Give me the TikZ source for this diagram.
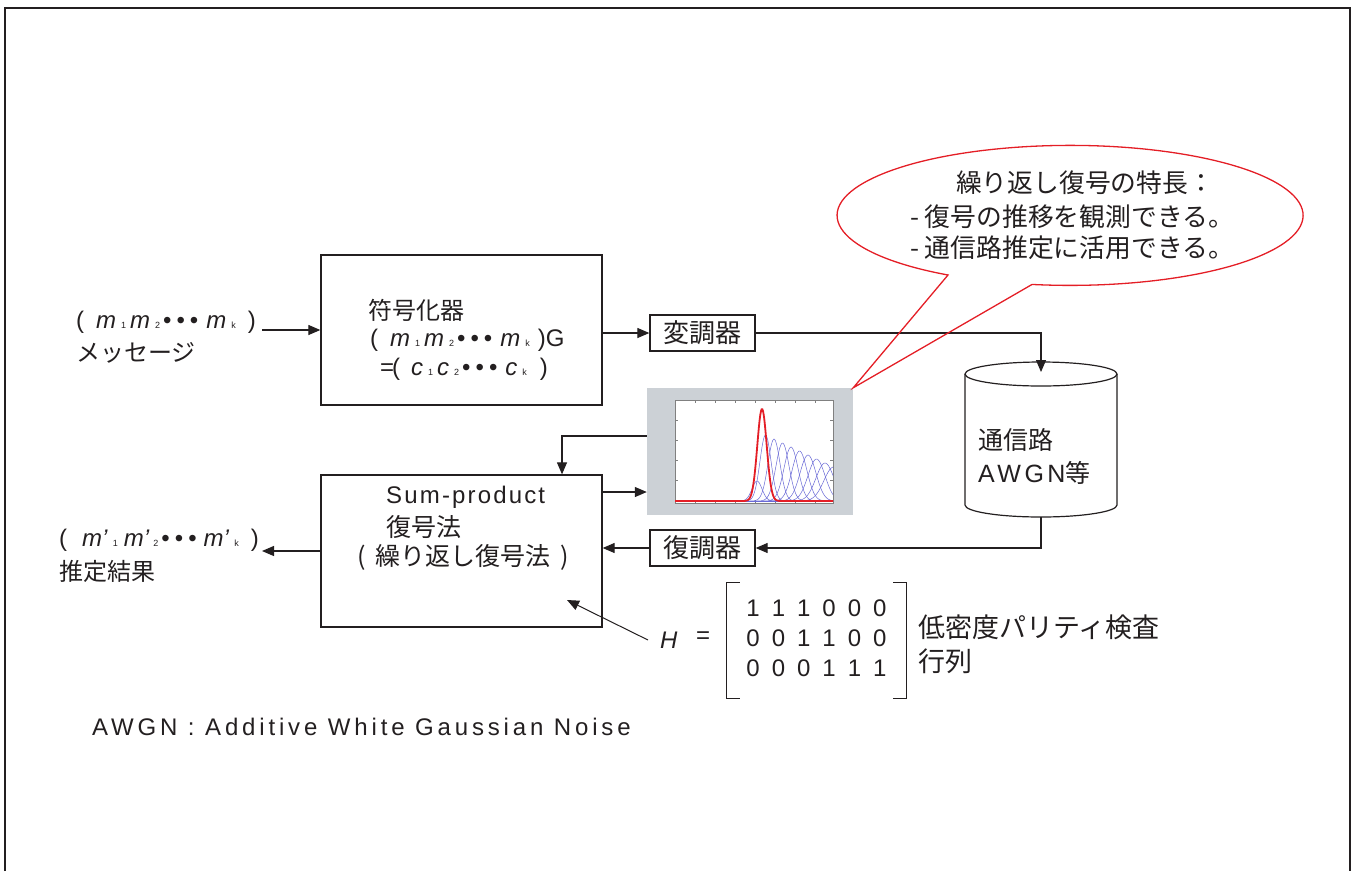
\documentclass[tikz,border=0pt]{standalone}
\usepackage{fontspec}
\setmainfont{Liberation Sans}
\newfontfamily\cjk{Noto Sans CJK JP}
\newfontfamily\lsp[LetterSpace=14]{Liberation Sans}
\newfontfamily\lspw[LetterSpace=16]{Liberation Sans}
\newfontfamily\lspn[LetterSpace=9]{Liberation Sans}
\usetikzlibrary{arrows.meta}
\definecolor{ink}{RGB}{35,31,32}
\definecolor{callred}{RGB}{228,30,38}
\definecolor{plotgray}{RGB}{204,209,214}
\definecolor{curveblue}{RGB}{105,105,215}
\newcommand{\jp}{\cjk\fontsize{24}{28}\selectfont}
\newcommand{\jpl}{\cjk\fontsize{25}{29}\selectfont}
\newcommand{\jpc}{\cjk\fontsize{25.8}{30}\selectfont}
\newcommand{\jpxl}{\cjk\fontsize{27}{31}\selectfont}
\newcommand{\lt}{\lspw\fontsize{24}{28}\selectfont}
\newcommand{\ltn}{\lspn\fontsize{24}{28}\selectfont}
\newcommand{\mt}{\fontsize{24}{28}\selectfont}
\newcommand{\sbs}[1]{{\fontsize{9}{9}\selectfont #1}}
\newcommand{\bdots}{•\kern5pt•\kern5pt•}
\tikzset{
  box/.style={draw=ink, line width=1.3pt, inner sep=0pt, fill=white},
  txt/.style={anchor=west, inner sep=0pt, text=ink},
  arr/.style={draw=ink, line width=1.2pt, -{Triangle[length=12pt,width=10pt]}},
  wire/.style={draw=ink, line width=1.2pt},
}
\begin{document}
\begin{tikzpicture}[x=1pt,y=-1pt]
\useasboundingbox (0,0) rectangle (1354,871);
\draw[ink, line width=1.5pt] (5,871) -- (5,8) -- (1350,8) -- (1350,871);

% input message
\node[txt, font=\mt] (msg) at (76,322) {(\kern12pt\textit{m}\kern5pt\sbs{1}\kern4pt\textit{m}\kern5pt\sbs{2}\kern3pt\bdots\kern8pt\textit{m}\kern5pt\sbs{k}\kern12pt)};
\node[txt, font=\jp] (msgj) at (76,353) {メッセージ};
\coordinate (intail) at (262,330);

% encoder
\node[box, minimum width=281, minimum height=150] (enc) at (461.5,330) {};
\node[txt, font=\jp] (enc1) at (368,310) {符号化器};
\node[txt, font=\mt] (enc2) at (370,340) {(\kern12pt\textit{m}\kern5pt\sbs{1}\kern4pt\textit{m}\kern5pt\sbs{2}\kern3pt\bdots\kern8pt\textit{m}\kern5pt\sbs{k}\kern8pt)G};
\node[txt, font=\mt] (enc3) at (380,369) {=\kern-2pt(\kern11pt\textit{c}\kern5pt\sbs{1}\kern4pt\textit{c}\kern5pt\sbs{2}\kern3pt\bdots\kern8pt\textit{c}\kern5pt\sbs{k}\kern13pt)};

% modulator / demodulator
\node[box, minimum width=105, minimum height=36, font=\cjk\fontsize{26}{30}\selectfont, text=ink] (mod) at (702.5,333) {変調器};
\node[box, minimum width=105, minimum height=36, font=\cjk\fontsize{26}{30}\selectfont, text=ink] (dem) at (702.5,548) {復調器};

% channel cylinder
\draw[ink, line width=1.2pt, fill=white] (965,374) -- (965,505) arc[start angle=180, end angle=360, x radius=76pt, y radius=12pt] -- (1117,374);
\draw[ink, line width=1.2pt] (1041,374) ellipse[x radius=76pt, y radius=12pt];
\coordinate (chtop) at (1041,372);
\coordinate (chbot) at (1041,517);
\node[txt, font=\jpl] (ch1) at (978,440) {通信路};
\node[txt, font=\lsp\fontsize{25}{29}\selectfont] (ch2) at (978,473) {AWGN{\jpl 等}};

% decoder
\node[box, minimum width=281, minimum height=152] (dec) at (461.5,551) {};
\node[txt, font=\ltn] (dec1) at (386,497) {Sum-product};
\node[txt, font=\jpl] (dec2) at (386,527) {復号法};
\node[txt, font=\jpl] (dec3) at (357,557) {({\kern10pt}繰り返し復号法{\kern10pt})};

% output
\node[txt, font=\mt] (est) at (59,540) {(\kern15pt\textit{m'}\kern5pt\sbs{1}\kern6pt\textit{m'}\kern4pt\sbs{2}\kern3pt\bdots\kern7pt\textit{m'}\kern5pt\sbs{k}\kern12pt)};
\node[txt, font=\jp] (estj) at (59,571) {推定結果};
\coordinate (outtip) at (262,551);

% plot image
\node[fill=plotgray, minimum width=206, minimum height=127, inner sep=0pt] (plot) at (750,451.5) {};
\begin{scope}
  \fill[white] (675,400) rectangle (833,503);
  \draw[gray, line width=0.4pt] (675,400) rectangle (833,503);
  \foreach \t in {695,715,735,755,775,795,815} {
    \draw[gray, line width=0.3pt] (\t,503) -- (\t,500);
    \draw[gray, line width=0.3pt] (\t,400) -- (\t,403);
  }
  \foreach \t in {420,440,460,480} {
    \draw[gray, line width=0.3pt] (675,\t) -- (678,\t);
    \draw[gray, line width=0.3pt] (833,\t) -- (830,\t);
  }
  \clip (675,400) rectangle (833,503);
  \foreach \i in {0,...,9} {
    \pgfmathsetmacro\c{757+8.5*\i}
    \pgfmathsetmacro\h{\i==0 ? 20 : 70-4*\i}
    \pgfmathsetmacro\s{5+0.5*\i}
    \pgfmathsetmacro\lo{\c-4*\s}
    \pgfmathsetmacro\hi{\c+4*\s}
    \draw[curveblue, line width=0.5pt] plot[domain=\lo:\hi, samples=50, smooth] (\x, {501-\h*exp(-((\x-\c)^2)/(2*\s*\s))});
  }
  \draw[curveblue, line width=0.6pt] (744,501) -- (833,501);
  \draw[callred, line width=1.8pt] (675,501) -- (743,501) plot[domain=743:781, samples=60, smooth] (\x, {501-92*exp(-((\x-762)^2)/(2*22))}) -- (833,501);
\end{scope}

% connectors
\draw[arr] (intail) -- (enc.west |- intail);
\draw[arr] (enc.east |- mod.west) -- (mod.west);
\draw[arr] (mod.east) -| (chtop);
\draw[arr] (chbot) |- (dem.east);
\draw[arr] (dem.west) -- (dec.east |- dem.west);
\draw[arr] (dec.west |- outtip) -- (outtip);
\draw[arr] ([yshift=15.5pt]plot.west) -| ([xshift=100.5pt]dec.north);
\draw[arr] ([yshift=59pt]dec.east) -- ([yshift=59pt]dec.east -| plot.west);

% parity check matrix
\node[txt, font=\mt] (H) at (660,640) {\textit{H}};
\node[txt, font=\mt] (eq) at (696,638) {=};
\coordinate (Hpt) at (567,600);
\draw[arr, line width=1pt] ([xshift=-12pt]H.west) -- (Hpt);
\node[inner sep=0pt, minimum width=179, minimum height=115, text=ink, font=\fontsize{24}{30}\selectfont] (mat) at (816.5,640.5) {%
  \setlength{\tabcolsep}{6pt}\renewcommand{\arraystretch}{1}%
  \begin{tabular}{@{}cccccc@{}}1&1&1&0&0&0\\0&0&1&1&0&0\\0&0&0&1&1&1\end{tabular}};
\draw[wire] ([xshift=13pt]mat.north west) -- (mat.north west) -- (mat.south west) -- ([xshift=13pt]mat.south west);
\draw[wire] ([xshift=-13pt]mat.north east) -- (mat.north east) -- (mat.south east) -- ([xshift=-13pt]mat.south east);
\node[txt, font=\jpxl] (ldpc1) at (918,627) {低密度パリティ検査};
\node[txt, font=\jpxl] (ldpc2) at (918,661) {行列};

% note
\node[txt, font=\lt] (note) at (92,727) {AWGN : Additive White Gaussian Noise};

% callout
\draw[callred, line width=1.3pt] (948,275) arc[start angle=238.4, end angle=-99.4, x radius=233pt, y radius=70pt] -- (plot.north east) -- cycle;
\node[anchor=center, inner sep=0pt, font=\jpc, text=ink] (co1) at (1085,183) {繰り返し復号の特長：};
\node[txt, font=\jpc] (co2) at (910,217) {- 復号の推移を観測できる。};
\node[txt, font=\jpc] (co3) at (910,248) {- 通信路推定に活用できる。};
\end{tikzpicture}
\end{document}
